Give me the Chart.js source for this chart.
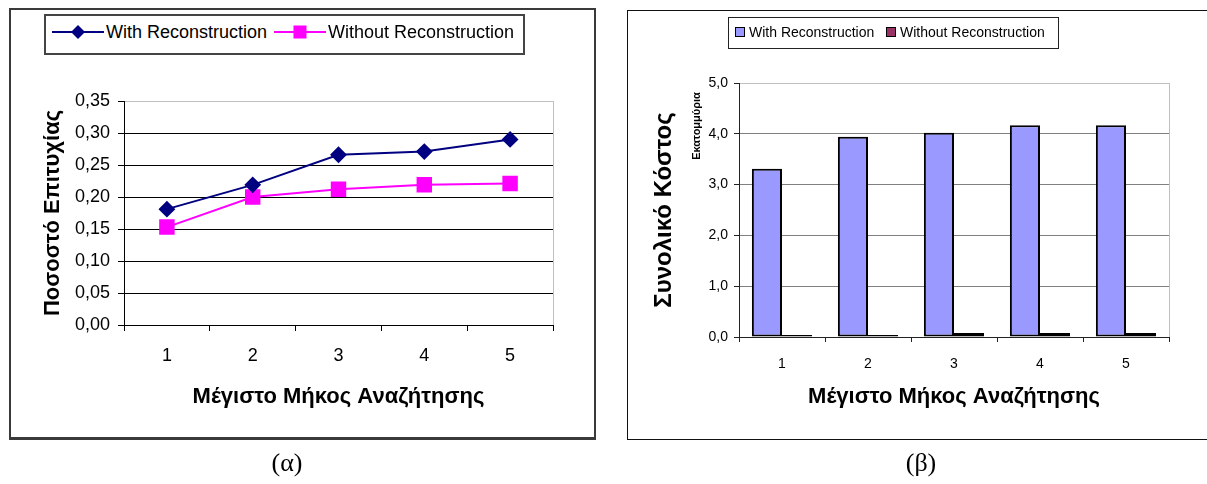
<!DOCTYPE html>
<html>
<head>
<meta charset="utf-8">
<script src="https://cdn.jsdelivr.net/npm/chart.js@4.4.0/dist/chart.umd.min.js"></script>
<style>
  html, body { margin: 0; padding: 0; background: #fff; }
  body { width: 1207px; height: 484px; position: relative; overflow: hidden;
         font-family: "Liberation Sans", Arial, sans-serif; color: #000; }
  .frame { position: absolute; box-sizing: border-box; }
  #frameA { left: 9px; top: 8px; width: 587px; height: 432px; border: 2px solid #3a3a3a; border-bottom-width: 3px; }
  #frameB { left: 627px; top: 10px; width: 620px; height: 430px; border: 1.5px solid #111; }
  canvas { position: absolute; top: 0; }
  #chartA { left: 0; }
  #chartB { left: 600px; }
  .lgbox { position: absolute; box-sizing: border-box; background: #fff; }
  #lgA { left: 44px; top: 14px; width: 481px; height: 41px; border: 2px solid #444; }
  #lgB { left: 728px; top: 17px; width: 331px; height: 32px; border: 1px solid #222; }
  .lgtext { position: absolute; white-space: nowrap; }
  .lgA { font-size: 18px; line-height: 20px; }
  .lgB { font-size: 14px; line-height: 16px; }
  .sw { position: absolute; box-sizing: border-box; width: 10px; height: 10px; border: 1.5px solid #000; }
  .caption { position: absolute; width: 100px; text-align: center;
             font-family: "Liberation Serif", "Times New Roman", serif; font-size: 26px; line-height: 30px; }
</style>
</head>
<body>
<div class="frame" id="frameA"></div>
<div class="frame" id="frameB"></div>
<canvas id="chartA" width="600" height="484"></canvas>
<canvas id="chartB" width="607" height="484"></canvas>
<div class="lgbox" id="lgA"></div>
<div class="lgbox" id="lgB"></div>
<div class="caption" style="left:237px; top:448px;">(α)</div>
<div class="caption" style="left:871px; top:448px;">(β)</div>

<script>
// ---- data ----
const categories = ['1', '2', '3', '4', '5'];
const seriesNames = ['With Reconstruction', 'Without Reconstruction'];

// success ratio per maximum search length
const successWith    = [0.181, 0.219, 0.266, 0.271, 0.290];
const successWithout = [0.153, 0.200, 0.212, 0.219, 0.221];
const successTicks   = [0, 0.05, 0.10, 0.15, 0.20, 0.25, 0.30, 0.35];

// total cost (millions) per maximum search length
const costWith    = [3.31, 3.94, 4.02, 4.17, 4.17];
const costWithout = [0.04, 0.04, 0.08, 0.08, 0.08];
const costTicks   = [0, 1, 2, 3, 4, 5];

const xTitle  = 'Μέγιστο Μήκος Αναζήτησης';
const yTitleA = 'Ποσοστό Επιτυχίας';
const yTitleB = 'Συνολικό Κόστος';
const unitB   = 'Εκατομμύρια';

// ---- styles ----
const FONT = '"Liberation Sans", Arial, sans-serif';
Chart.defaults.font.family = FONT;
Chart.defaults.color = '#000';
Chart.defaults.animation = false;

const lineColors = ['#000080', '#FF00FF'];
const barColors  = ['#9999FF', '#993366'];
const comma = (v, d) => v.toFixed(d).replace('.', ',');

// light grey right-hand edge of the plot area
const plotEdge = {
  id: 'plotEdge',
  beforeDatasetsDraw(chart, args, opts) {
    const { ctx, chartArea: a } = chart;
    const x = Math.round(a.right) + 0.5;
    ctx.save();
    ctx.strokeStyle = opts.color || '#c0c0c0';
    ctx.lineWidth = 1;
    ctx.beginPath();
    ctx.moveTo(x, a.top);
    ctx.lineTo(x, a.bottom);
    ctx.stroke();
    ctx.restore();
  }
};

// small rotated unit caption next to the value axis
const unitLabel = {
  id: 'unitLabel',
  afterDraw(chart, args, opts) {
    if (!opts.text) return;
    const ctx = chart.ctx;
    ctx.save();
    ctx.translate(opts.x, opts.y);
    ctx.rotate(-Math.PI / 2);
    ctx.font = 'bold 11px ' + FONT;
    ctx.fillStyle = '#000';
    ctx.textAlign = 'center';
    ctx.textBaseline = 'middle';
    ctx.fillText(opts.text, 0, 0);
    ctx.restore();
  }
};

// ---- (α) line chart: success ratio ----
new Chart(document.getElementById('chartA'), {
  type: 'line',
  data: {
    labels: categories,
    datasets: [
      { label: seriesNames[0], data: successWith, borderColor: lineColors[0], backgroundColor: lineColors[0],
        borderWidth: 2, pointStyle: 'rectRot', pointRadius: 7, pointHoverRadius: 7, tension: 0 },
      { label: seriesNames[1], data: successWithout, borderColor: lineColors[1], backgroundColor: lineColors[1],
        borderWidth: 2, pointStyle: 'rect', pointRadius: 9.5, pointHoverRadius: 9.5, tension: 0 }
    ]
  },
  options: {
    responsive: false,
    devicePixelRatio: 1,
    layout: { padding: { left: 0, right: 47, top: 101, bottom: 0 } },
    plugins: { legend: { display: false }, tooltip: { enabled: false }, plotEdge: { color: '#c0c0c0' } },
    scales: {
      x: {
        offset: true,
        grid: { offset: true, drawOnChartArea: false, drawTicks: true, tickLength: 6, color: '#000' },
        border: { color: '#000', width: 1 },
        ticks: { font: { size: 18 }, padding: 14, maxRotation: 0 },
        title: { display: true, text: xTitle, font: { size: 22, weight: 'bold' }, padding: { top: 0, bottom: 74 } },
        afterFit: s => { s.height = 159; }
      },
      y: {
        min: 0, max: 0.35,
        afterBuildTicks: s => { s.ticks = successTicks.map(v => ({ value: v })); },
        grid: { color: c => (c.tick && c.tick.value >= 0.35 ? '#c0c0c0' : '#000'), tickColor: '#000', tickLength: 6 },
        border: { color: '#000', width: 1 },
        ticks: { font: { size: 18 }, padding: 8, callback: v => comma(v, 2) },
        title: { display: true, text: yTitleA, font: { size: 22, weight: 'bold' }, padding: { top: 40, bottom: 0 } },
        afterFit: s => { s.width = 124; }
      }
    }
  },
  plugins: [plotEdge]
});

// ---- (β) bar chart: total cost ----
new Chart(document.getElementById('chartB'), {
  type: 'bar',
  data: {
    labels: categories,
    datasets: [
      { label: seriesNames[0], data: costWith, backgroundColor: barColors[0], borderColor: '#000', borderWidth: 2, borderSkipped: false },
      { label: seriesNames[1], data: costWithout, backgroundColor: barColors[1], borderColor: '#000', borderWidth: 2, borderSkipped: false }
    ]
  },
  options: {
    responsive: false,
    devicePixelRatio: 1,
    datasets: { bar: { categoryPercentage: 0.7, barPercentage: 1.0 } },
    layout: { padding: { left: 0, right: 38, top: 83, bottom: 0 } },
    plugins: {
      legend: { display: false }, tooltip: { enabled: false },
      plotEdge: { color: '#c0c0c0' },
      unitLabel: { text: unitB, x: 97, y: 126 }
    },
    scales: {
      x: {
        grid: { offset: true, drawOnChartArea: false, drawTicks: true, tickLength: 5, color: '#222' },
        border: { color: '#222', width: 1 },
        ticks: { font: { size: 14 }, padding: 14, maxRotation: 0 },
        title: { display: true, text: xTitle, font: { size: 22, weight: 'bold' }, padding: { top: 0, bottom: 74 } },
        afterFit: s => { s.height = 147; }
      },
      y: {
        min: 0, max: 5,
        afterBuildTicks: s => { s.ticks = costTicks.map(v => ({ value: v })); },
        grid: { color: c => (c.tick && c.tick.value >= 5 ? '#c0c0c0' : '#808080'), tickColor: '#222', tickLength: 5 },
        border: { color: '#222', width: 1 },
        ticks: { font: { size: 14 }, padding: 6, callback: v => comma(v, 1) },
        title: { display: true, text: yTitleB, font: { size: 24, weight: 'bold' }, padding: { top: 50, bottom: 0 } },
        afterFit: s => { s.width = 139; }
      }
    }
  },
  plugins: [plotEdge, unitLabel]
});

// ---- legends ----
function addText(cls, text, left, centerY, lineH) {
  const t = document.createElement('div');
  t.className = 'lgtext ' + cls;
  t.textContent = text;
  t.style.left = left + 'px';
  t.style.top = (centerY - lineH / 2) + 'px';
  document.body.appendChild(t);
}

// line-and-marker samples for the line chart
function lineSample(left, centerY, color, marker) {
  const ns = 'http://www.w3.org/2000/svg';
  const svg = document.createElementNS(ns, 'svg');
  svg.setAttribute('width', 52); svg.setAttribute('height', 16);
  svg.style.position = 'absolute';
  svg.style.left = left + 'px';
  svg.style.top = (centerY - 8) + 'px';
  const ln = document.createElementNS(ns, 'line');
  ln.setAttribute('x1', 0); ln.setAttribute('y1', 8); ln.setAttribute('x2', 52); ln.setAttribute('y2', 8);
  ln.setAttribute('stroke', color); ln.setAttribute('stroke-width', 2);
  svg.appendChild(ln);
  let m;
  if (marker === 'diamond') {
    m = document.createElementNS(ns, 'polygon');
    m.setAttribute('points', '19,8 26,1 33,8 26,15');
  } else {
    m = document.createElementNS(ns, 'rect');
    m.setAttribute('x', 19.5); m.setAttribute('y', 1.5); m.setAttribute('width', 13); m.setAttribute('height', 13);
  }
  m.setAttribute('fill', color);
  svg.appendChild(m);
  document.body.appendChild(svg);
}

lineSample(52, 32, lineColors[0], 'diamond');
addText('lgA', seriesNames[0], 106, 32, 20);
lineSample(274, 32, lineColors[1], 'square');
addText('lgA', seriesNames[1], 328, 32, 20);

function swatch(left, centerY, color) {
  const s = document.createElement('div');
  s.className = 'sw';
  s.style.left = left + 'px';
  s.style.top = (centerY - 5) + 'px';
  s.style.background = color;
  document.body.appendChild(s);
}
swatch(735, 32, barColors[0]);
addText('lgB', seriesNames[0], 749, 32, 16);
swatch(886, 32, barColors[1]);
addText('lgB', seriesNames[1], 900, 32, 16);
</script>
</body>
</html>
